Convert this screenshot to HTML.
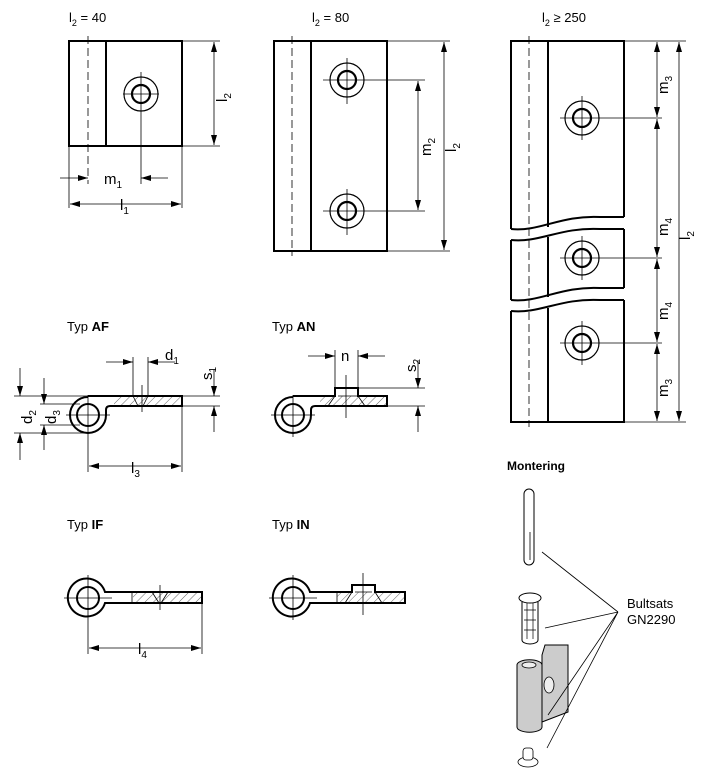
<!DOCTYPE html>
<html><head><meta charset="utf-8"><style>
html,body{margin:0;padding:0;background:#fff}
svg{display:block}
text{font-family:"Liberation Sans",Arial,sans-serif;fill:#000}
</style></head><body>
<svg width="703" height="776" viewBox="0 0 703 776" xmlns="http://www.w3.org/2000/svg">
<defs>
<marker id="a" viewBox="0 0 10 6" refX="10" refY="3" markerWidth="10" markerHeight="6" orient="auto-start-reverse" markerUnits="userSpaceOnUse"><path d="M0,0L10,3L0,6z" fill="#000"/></marker>
<pattern id="h" width="6" height="6" patternUnits="userSpaceOnUse" patternTransform="rotate(45)"><line x1="0" y1="0" x2="0" y2="6" stroke="#000" stroke-width="0.6"/></pattern>
</defs>
<g fill="none" stroke="#000" stroke-width="0.8">
<!-- Drawing 1 -->
<g stroke-width="2"><rect x="69" y="41" width="113" height="105"/><line x1="106" y1="41" x2="106" y2="146"/></g>
<line x1="88" y1="36" x2="88" y2="184" stroke-dasharray="8,4"/>
<circle cx="141" cy="94" r="17" stroke-width="1.2"/><circle cx="141" cy="94" r="9" stroke-width="2.2"/>
<line x1="123" y1="94" x2="159" y2="94"/><line x1="141" y1="72" x2="141" y2="184"/>
<line x1="182" y1="41" x2="220" y2="41"/><line x1="182" y1="146" x2="220" y2="146"/>
<line x1="214" y1="42" x2="214" y2="145" marker-start="url(#a)" marker-end="url(#a)"/>
<line x1="69" y1="146" x2="69" y2="208"/><line x1="182" y1="146" x2="182" y2="208"/>
<line x1="60" y1="178" x2="88" y2="178" marker-end="url(#a)"/><line x1="168" y1="178" x2="141" y2="178" marker-end="url(#a)"/>
<line x1="70" y1="204" x2="181" y2="204" marker-start="url(#a)" marker-end="url(#a)"/>
<!-- Drawing 2 -->
<g stroke-width="2"><rect x="274" y="41" width="113" height="210"/><line x1="311" y1="41" x2="311" y2="251"/></g>
<line x1="292" y1="36" x2="292" y2="256" stroke-dasharray="8,4"/>
<circle cx="347" cy="80" r="17" stroke-width="1.2"/><circle cx="347" cy="80" r="9" stroke-width="2.2"/>
<circle cx="347" cy="211" r="17" stroke-width="1.2"/><circle cx="347" cy="211" r="9" stroke-width="2.2"/>
<line x1="323" y1="80" x2="425" y2="80"/><line x1="347" y1="58" x2="347" y2="104"/>
<line x1="323" y1="211" x2="425" y2="211"/><line x1="347" y1="189" x2="347" y2="235"/>
<line x1="418" y1="81" x2="418" y2="210" marker-start="url(#a)" marker-end="url(#a)"/>
<line x1="387" y1="41" x2="450" y2="41"/><line x1="387" y1="251" x2="450" y2="251"/>
<line x1="444" y1="42" x2="444" y2="250" marker-start="url(#a)" marker-end="url(#a)"/>
<!-- Drawing 3 -->
<g stroke-width="2">
<path d="M511,229 L511,41 L624,41 L624,217"/><path d="M511,229 C540,232 560,215 600,217 L624,217"/>
<path d="M511,240 C540,243 560,227 600,229 L624,229"/><path d="M511,240 L511,300 M624,229 L624,288"/>
<path d="M511,300 C540,303 560,286 600,288 L624,288"/>
<path d="M511,311 C540,314 560,298 600,300 L624,300"/>
<path d="M511,311 L511,422 L624,422 L624,300"/>
<line x1="548" y1="41" x2="548" y2="227"/><line x1="548" y1="237" x2="548" y2="297"/><line x1="548" y1="308" x2="548" y2="422"/>
</g>
<line x1="529" y1="36" x2="529" y2="427" stroke-dasharray="8,4"/>
<circle cx="582" cy="118" r="17" stroke-width="1.2"/><circle cx="582" cy="118" r="9" stroke-width="2.2"/>
<circle cx="582" cy="258" r="17" stroke-width="1.2"/><circle cx="582" cy="258" r="9" stroke-width="2.2"/>
<circle cx="582" cy="343" r="17" stroke-width="1.2"/><circle cx="582" cy="343" r="9" stroke-width="2.2"/>
<line x1="560" y1="118" x2="662" y2="118"/><line x1="582" y1="96" x2="582" y2="140"/>
<line x1="560" y1="258" x2="662" y2="258"/><line x1="582" y1="236" x2="582" y2="280"/>
<line x1="560" y1="343" x2="662" y2="343"/><line x1="582" y1="321" x2="582" y2="365"/>
<line x1="624" y1="41" x2="686" y2="41"/><line x1="624" y1="422" x2="686" y2="422"/>
<line x1="657" y1="42" x2="657" y2="117" marker-start="url(#a)" marker-end="url(#a)"/>
<line x1="657" y1="119" x2="657" y2="257" marker-start="url(#a)" marker-end="url(#a)"/>
<line x1="657" y1="259" x2="657" y2="342" marker-start="url(#a)" marker-end="url(#a)"/>
<line x1="657" y1="344" x2="657" y2="421" marker-start="url(#a)" marker-end="url(#a)"/>
<line x1="679" y1="42" x2="679" y2="421" marker-start="url(#a)" marker-end="url(#a)"/>
<!-- Typ AF -->
<rect x="114" y="396" width="68" height="10" fill="url(#h)" stroke="none"/>
<path d="M88,397 A18,18 0 1 0 106,415 L106,410 Q106,406 110,406 L182,406 L182,396 L88,396" stroke-width="2" fill="none"/>
<path d="M133,396 L138,406 M148,396 L143,406"/>
<circle cx="88" cy="415" r="11" stroke-width="2"/>
<line x1="66" y1="415" x2="110" y2="415"/><line x1="88" y1="395" x2="88" y2="472"/><line x1="142" y1="385" x2="142" y2="412"/>
<line x1="14" y1="396" x2="88" y2="396"/><line x1="14" y1="433" x2="88" y2="433"/>
<line x1="40" y1="404" x2="80" y2="404"/><line x1="40" y1="425" x2="80" y2="425"/>
<line x1="20" y1="368" x2="20" y2="396" marker-end="url(#a)"/><line x1="20" y1="460" x2="20" y2="433" marker-end="url(#a)"/>
<line x1="44" y1="378" x2="44" y2="404" marker-end="url(#a)"/><line x1="44" y1="450" x2="44" y2="425" marker-end="url(#a)"/>
<line x1="133" y1="357" x2="133" y2="396"/><line x1="148" y1="357" x2="148" y2="396"/>
<line x1="106" y1="362" x2="133" y2="362" marker-end="url(#a)"/><line x1="175" y1="362" x2="148" y2="362" marker-end="url(#a)"/>
<line x1="182" y1="396" x2="220" y2="396"/><line x1="182" y1="406" x2="220" y2="406"/><line x1="182" y1="406" x2="182" y2="472"/>
<line x1="214" y1="370" x2="214" y2="396" marker-end="url(#a)"/><line x1="214" y1="432" x2="214" y2="406" marker-end="url(#a)"/>
<line x1="89" y1="466" x2="181" y2="466" marker-start="url(#a)" marker-end="url(#a)"/>
<!-- Typ AN -->
<rect x="320" y="396" width="67" height="10" fill="url(#h)" stroke="none"/>
<path d="M293,397 A18,18 0 1 0 311,415 L311,410 Q311,406 315,406 L387,406 L387,396 L358,396 L358,388 L335,388 L335,396 L293,396" stroke-width="2" fill="none"/>
<path d="M335,396 L328,406 M358,396 L365,406 M338,396 L357,396"/>
<circle cx="293" cy="415" r="11" stroke-width="2"/>
<line x1="271" y1="415" x2="315" y2="415"/><line x1="293" y1="395" x2="293" y2="437"/><line x1="346" y1="375" x2="346" y2="418"/>
<line x1="335" y1="350" x2="335" y2="388"/><line x1="358" y1="350" x2="358" y2="388"/>
<line x1="308" y1="356" x2="335" y2="356" marker-end="url(#a)"/><line x1="385" y1="356" x2="358" y2="356" marker-end="url(#a)"/>
<line x1="358" y1="388" x2="425" y2="388"/><line x1="387" y1="406" x2="425" y2="406"/>
<line x1="418" y1="360" x2="418" y2="388" marker-end="url(#a)"/><line x1="418" y1="432" x2="418" y2="406" marker-end="url(#a)"/>
<!-- Typ IF -->
<rect x="133" y="592" width="69" height="11" fill="url(#h)" stroke="none"/>
<path d="M105,592 A19,19 0 1 0 105,603 L202,603 L202,592 Z" stroke-width="2" fill="none"/>
<path d="M132,592 L132,603 M152,592 L159,603 M168,592 L161,603"/>
<circle cx="88" cy="598" r="11" stroke-width="2"/>
<line x1="64" y1="598" x2="112" y2="598"/><line x1="88" y1="575" x2="88" y2="654"/><line x1="160" y1="585" x2="160" y2="610"/>
<line x1="202" y1="603" x2="202" y2="654"/>
<line x1="89" y1="648" x2="201" y2="648" marker-start="url(#a)" marker-end="url(#a)"/>
<!-- Typ IN -->
<rect x="337" y="592" width="68" height="11" fill="url(#h)" stroke="none"/>
<path d="M310,592 A19,19 0 1 0 310,603 L405,603 L405,592 L375,592 L375,585 L352,585 L352,592 Z" stroke-width="2" fill="none"/>
<path d="M337,592 L337,603 M352,592 L345,603 M375,592 L382,603 M355,592 L372,592"/>
<circle cx="293" cy="598" r="11" stroke-width="2"/>
<line x1="269" y1="598" x2="317" y2="598"/><line x1="293" y1="575" x2="293" y2="620"/><line x1="363" y1="573" x2="363" y2="615"/>
<!-- Montering -->
<rect x="524" y="489" width="10" height="76" rx="5" fill="#fff" stroke-width="1"/>
<line x1="530" y1="532" x2="530" y2="560"/>
<path d="M519,598 a11,5 0 0 1 22,0 a11,5 0 0 1 -22,0z M522,602 L522,640 a8,4 0 0 0 16,0 L538,602" fill="#fff" stroke-width="1"/>
<path d="M524,610 h12 M524,620 h12 M524,630 h12 M527,603 v36 M533,603 v36" stroke-width="0.7"/>
<path d="M542,655 L545,645 L568,645 L568,712 L542,722 Z" fill="#ccc" stroke-width="1"/>
<path d="M517,665 a12,5 0 0 1 25,0 L542,727 a12,5 0 0 1 -25,0 Z" fill="#ccc" stroke-width="1"/>
<ellipse cx="529" cy="665" rx="7" ry="3" fill="#eee"/>
<ellipse cx="549" cy="685" rx="5" ry="8" fill="#eee"/>
<ellipse cx="528" cy="762" rx="10" ry="5" fill="#fff"/>
<rect x="523" y="748" width="10" height="12" rx="3" fill="#fff"/>
<path d="M542,552 L618,612 M545,628 L618,612 M547,748 L618,612 M548,715 L618,612" stroke-width="0.8"/>
</g>
<g font-size="13">
<text x="69" y="22">l<tspan font-size="9" dy="4">2</tspan><tspan dy="-4"> = 40</tspan></text>
<text x="312" y="22">l<tspan font-size="9" dy="4">2</tspan><tspan dy="-4"> = 80</tspan></text>
<text x="542" y="22">l<tspan font-size="9" dy="4">2</tspan><tspan dy="-4"> ≥ 250</tspan></text>
<text x="67" y="331">Typ <tspan font-weight="bold">AF</tspan></text>
<text x="272" y="331">Typ <tspan font-weight="bold">AN</tspan></text>
<text x="67" y="529">Typ <tspan font-weight="bold">IF</tspan></text>
<text x="272" y="529">Typ <tspan font-weight="bold">IN</tspan></text>
<text x="507" y="470" font-weight="bold" font-size="12">Montering</text>
<text x="627" y="608">Bultsats</text>
<text x="627" y="624">GN2290</text>
</g>
<g font-size="15">
<text x="104" y="184">m<tspan font-size="10" dy="4">1</tspan></text>
<text x="120" y="210">l<tspan font-size="10" dy="4">1</tspan></text>
<text x="131" y="473">l<tspan font-size="10" dy="4">3</tspan></text>
<text x="138" y="654">l<tspan font-size="10" dy="4">4</tspan></text>
<text x="165" y="360">d<tspan font-size="10" dy="4">1</tspan></text>
<text x="341" y="361">n</text>
<g transform="translate(227,102) rotate(-90)"><text>l<tspan font-size="10" dy="4">2</tspan></text></g>
<g transform="translate(431,156) rotate(-90)"><text>m<tspan font-size="10" dy="4">2</tspan></text></g>
<g transform="translate(456,152) rotate(-90)"><text>l<tspan font-size="10" dy="4">2</tspan></text></g>
<g transform="translate(668,94) rotate(-90)"><text>m<tspan font-size="10" dy="4">3</tspan></text></g>
<g transform="translate(668,236) rotate(-90)"><text>m<tspan font-size="10" dy="4">4</tspan></text></g>
<g transform="translate(668,320) rotate(-90)"><text>m<tspan font-size="10" dy="4">4</tspan></text></g>
<g transform="translate(668,397) rotate(-90)"><text>m<tspan font-size="10" dy="4">3</tspan></text></g>
<g transform="translate(690,240) rotate(-90)"><text>l<tspan font-size="10" dy="4">2</tspan></text></g>
<g transform="translate(212,380) rotate(-90)"><text>s<tspan font-size="10" dy="4">1</tspan></text></g>
<g transform="translate(416,372) rotate(-90)"><text>s<tspan font-size="10" dy="4">2</tspan></text></g>
<g transform="translate(32,424) rotate(-90)"><text>d<tspan font-size="10" dy="4">2</tspan></text></g>
<g transform="translate(56,424) rotate(-90)"><text>d<tspan font-size="10" dy="4">3</tspan></text></g>
</g>
</svg>
</body></html>
